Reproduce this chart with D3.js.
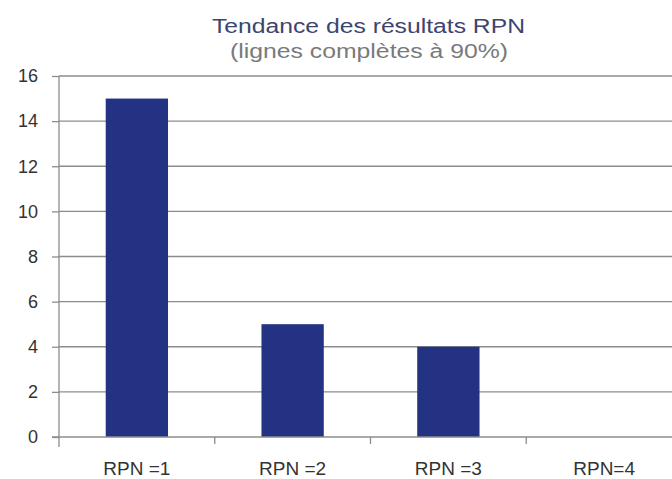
<!DOCTYPE html>
<html>
<head>
<meta charset="utf-8">
<script src="https://cdn.jsdelivr.net/npm/d3@7"></script>
<style>
  body { margin: 0; background: #fff; }
  text { font-family: "Liberation Sans", Arial, sans-serif; }
</style>
</head>
<body>
<div class="rpn-chart"></div>
<script>
// data
const categories = ['RPN =1', 'RPN =2', 'RPN =3', 'RPN=4'];
const values = [15, 5, 4, 0];
const yTicks = [0, 2, 4, 6, 8, 10, 12, 14, 16];

const width = 672;
const height = 479;
const svg = d3.select('.rpn-chart')
    .append('svg')
    .attr('width', width)
    .attr('height', height);

const x = d3.scaleBand()
    .domain(categories)
    .range([59, 682])
    .paddingInner(0.6)
    .paddingOuter(0.3);

const y = d3.scaleLinear()
    .domain([0, 16])
    .range([437, 76]);

//title, the picture is a bit stretched sideways
svg.append('text')
    .attr('x', 212)
    .attr('y', 33)
    .attr('font-size', 20)
    .attr('fill', '#3d4470')
    .attr('textLength', 313)
    .attr('lengthAdjust', 'spacingAndGlyphs')
    .text('Tendance des résultats RPN');
svg.append('text')
    .attr('x', 230)
    .attr('y', 58)
    .attr('font-size', 20)
    .attr('fill', '#7a7a7a')
    .attr('textLength', 278)
    .attr('lengthAdjust', 'spacingAndGlyphs')
    .text('(lignes complètes à 90%)');

//grid lines
svg.selectAll('line.grid')
    .data(yTicks.filter(d => d > 0))
    .enter()
    .append('line')
    .attr('class', 'grid')
    .attr('x1', 59)
    .attr('x2', width)
    .attr('y1', d => y(d))
    .attr('y2', d => y(d))
    .attr('stroke', '#8c8c8c')
    .attr('stroke-width', 1.3);

//y axis
const yAxis = svg.append('g')
    .attr('transform', 'translate(59,0)')
    .call(d3.axisLeft(y).tickValues(yTicks).tickSize(7).tickPadding(14));
yAxis.select('.domain').remove();
yAxis.selectAll('line').attr('stroke', '#8c8c8c').attr('stroke-width', 1.3);
yAxis.selectAll('text')
    .attr('font-size', 18)
    .attr('fill', '#333')
    .attr('font-family', '"Liberation Sans", Arial, sans-serif');
svg.append('line')
    .attr('x1', 59).attr('x2', 59)
    .attr('y1', 76).attr('y2', 447)
    .attr('stroke', '#8c8c8c')
    .attr('stroke-width', 1.3);

//bars
svg.selectAll('rect')
    .data(values)
    .enter()
    .append('rect')
    .attr('x', (d, i) => x(categories[i]))
    .attr('y', d => y(d))
    .attr('width', x.bandwidth())
    .attr('height', d => y(0) - y(d))
    .attr('fill', '#233282');

//x axis line and category separators
svg.append('line')
    .attr('x1', 52).attr('x2', width)
    .attr('y1', y(0)).attr('y2', y(0))
    .attr('stroke', '#8c8c8c')
    .attr('stroke-width', 1.3);
svg.selectAll('line.sep')
    .data(categories.slice(1))
    .enter()
    .append('line')
    .attr('class', 'sep')
    .attr('x1', d => x(d) - x.step() * x.paddingInner() / 2)
    .attr('x2', d => x(d) - x.step() * x.paddingInner() / 2)
    .attr('y1', y(0))
    .attr('y2', y(0) + 7)
    .attr('stroke', '#8c8c8c')
    .attr('stroke-width', 1.3);

//category labels
svg.selectAll('text.cat')
    .data(categories)
    .enter()
    .append('text')
    .attr('class', 'cat')
    .attr('x', d => x(d) + x.bandwidth() / 2)
    .attr('y', 475)
    .attr('text-anchor', 'middle')
    .attr('font-size', 19)
    .attr('fill', '#333')
    .text(d => d);
</script>
</body>
</html>
